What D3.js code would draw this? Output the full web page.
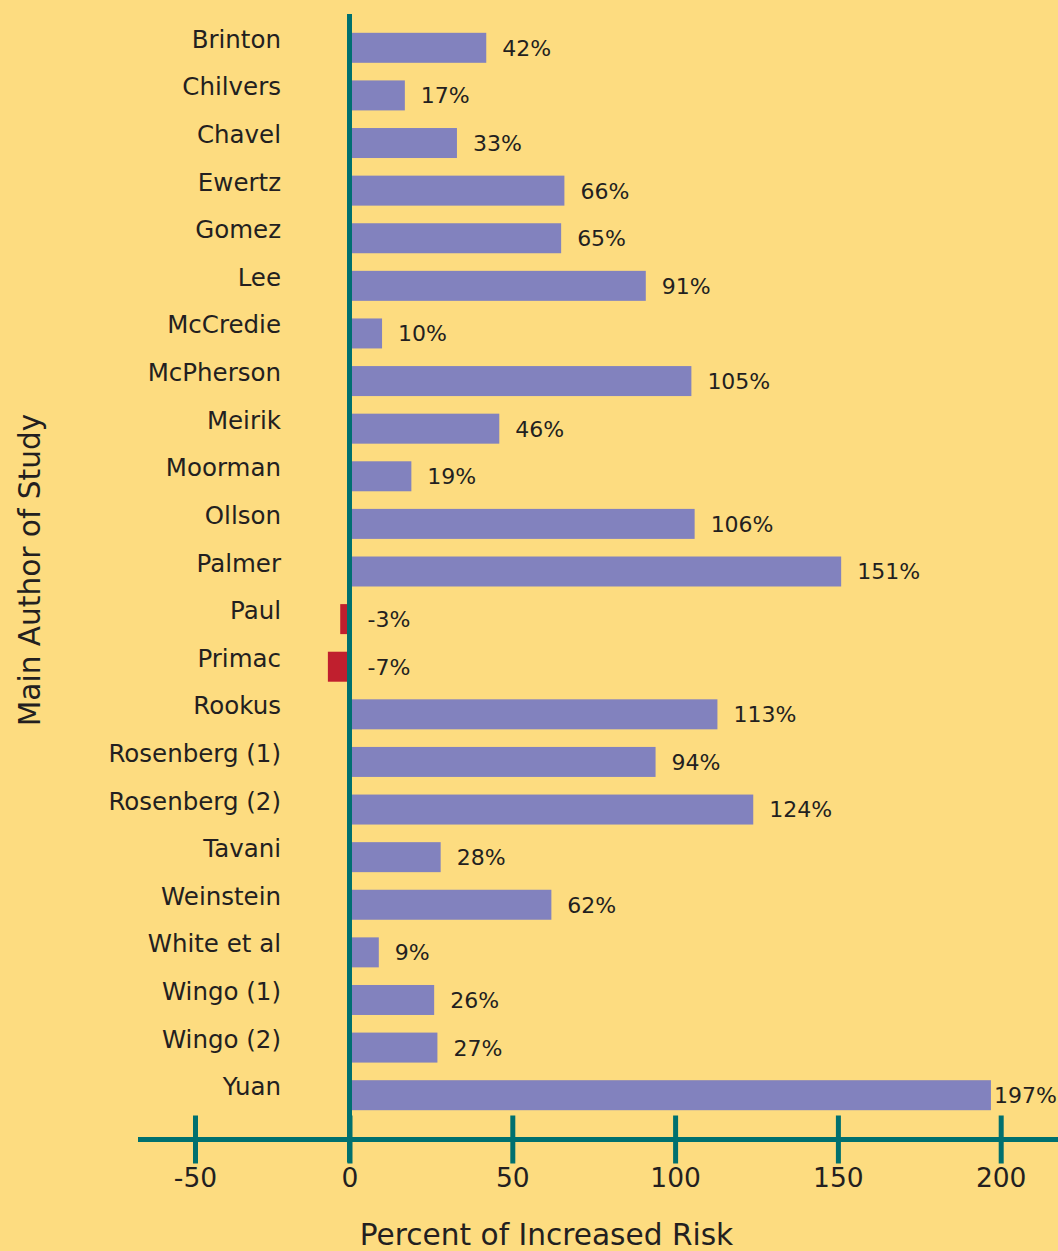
<!DOCTYPE html>
<html>
<head>
<meta charset="utf-8">
<script src="https://cdn.jsdelivr.net/npm/d3@7"></script>
<style>
    html, body { margin: 0; padding: 0; background: #fddc80; }
    svg { display: block; }
    svg text { font-family: "DejaVu Sans"; }
</style>
</head>
<body>
<div id="chart"></div>
<script>
const authors = ["Brinton", "Chilvers", "Chavel", "Ewertz", "Gomez", "Lee", "McCredie", "McPherson",
    "Meirik", "Moorman", "Ollson", "Palmer", "Paul", "Primac", "Rookus", "Rosenberg (1)",
    "Rosenberg (2)", "Tavani", "Weinstein", "White et al", "Wingo (1)", "Wingo (2)", "Yuan"];
const increased_risk = [42, 17, 33, 66, 65, 91, 10, 105, 46, 19, 106, 151, -3, -7, 113, 94,
    124, 28, 62, 9, 26, 27, 197];
const tick_values = [-50, 0, 50, 100, 150, 200];

const data = authors.map((a, i) => ({ author: a, value: increased_risk[i] }));

const total_width = 1058;
const total_height = 1251;

const bg = "#fddc80";
const teal = "#00706f";
const bar_color = "#8282be";
const neg_color = "#c01f2e";
const text_color = "#231f20";
const font = "DejaVu Sans";

const svg = d3.select("#chart").append("svg")
    .attr("width", total_width)
    .attr("height", total_height);

svg.append("rect")
    .attr("width", total_width)
    .attr("height", total_height)
    .attr("fill", bg);

// the -50 tick sits a bit closer to zero than the rest of the spacing
const x = d3.scaleLinear().domain([-50, 0, 200]).range([195, 349.5, 1000.7]);
const y = d3.scaleBand()
    .domain(authors)
    .range([24, 1119])
    .paddingInner(0.37)
    .paddingOuter(0.185);

const axis_y = 1139.5;

// bars
svg.append("g")
    .selectAll("rect")
    .data(data)
    .enter().append("rect")
    .attr("x", d => Math.min(x(0), x(d.value)))
    .attr("y", d => y(d.author))
    .attr("width", d => Math.abs(x(d.value) - x(0)))
    .attr("height", y.bandwidth())
    .attr("fill", d => d.value < 0 ? neg_color : bar_color);

// value labels, kept inside the right edge
svg.append("g")
    .selectAll("text")
    .data(data)
    .enter().append("text")
    .attr("y", d => y(d.author) + y.bandwidth() / 2)
    .attr("dy", "0.36em")
    .attr("fill", text_color)
    .attr("font-family", font)
    .style("font-size", "22px")
    .text(d => d.value + "%")
    .attr("x", function (d) {
        const want = d.value < 0 ? x(0) + 18 : x(d.value) + 16;
        return Math.min(want, total_width - 1 - this.getComputedTextLength());
    });

// author labels
svg.append("g")
    .selectAll("text")
    .data(data)
    .enter().append("text")
    .attr("x", 281)
    .attr("y", d => y(d.author) + y.bandwidth() / 2)
    .attr("text-anchor", "end")
    .attr("fill", text_color)
    .attr("font-family", font)
    .style("font-size", "24.5px")
    .text(d => d.author);

// vertical zero line
svg.append("line")
    .attr("x1", x(0))
    .attr("x2", x(0))
    .attr("y1", 14)
    .attr("y2", axis_y + 23)
    .attr("stroke", teal)
    .attr("stroke-width", 5);

// x axis
const x_axis = svg.append("g")
    .attr("transform", `translate(0,${axis_y})`)
    .call(d3.axisBottom(x).tickValues(tick_values).tickFormat(d => String(d)));

x_axis.select(".domain").remove();
x_axis.selectAll(".tick line")
    .attr("y1", -24)
    .attr("y2", 24)
    .attr("stroke", teal)
    .attr("stroke-width", 5);
x_axis.selectAll(".tick text")
    .attr("y", 47.5)
    .attr("dy", null)
    .attr("fill", text_color)
    .attr("font-family", font)
    .style("font-size", "26.5px");
x_axis.attr("font-family", font);

svg.append("line")
    .attr("x1", 138)
    .attr("x2", total_width)
    .attr("y1", axis_y)
    .attr("y2", axis_y)
    .attr("stroke", teal)
    .attr("stroke-width", 5);

// axis titles
svg.append("text")
    .attr("x", 546.5)
    .attr("y", 1245)
    .attr("text-anchor", "middle")
    .attr("fill", text_color)
    .attr("font-family", font)
    .style("font-size", "29.6px")
    .text("Percent of Increased Risk");

svg.append("text")
    .attr("transform", "translate(40,570) rotate(-90)")
    .attr("text-anchor", "middle")
    .attr("fill", text_color)
    .attr("font-family", font)
    .style("font-size", "29.6px")
    .text("Main Author of Study");
</script>
</body>
</html>
